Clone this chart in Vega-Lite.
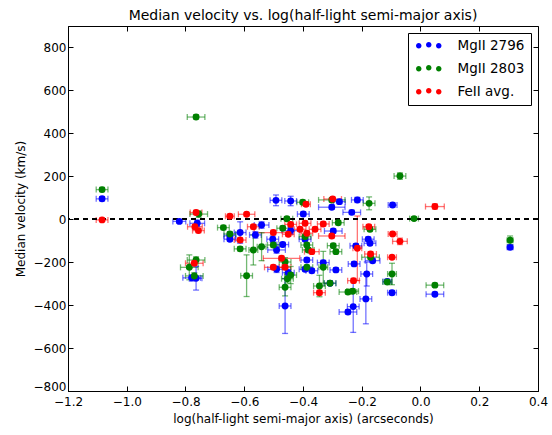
{
  "$schema": "https://vega.github.io/schema/vega-lite/v6.json",
  "width": 470,
  "height": 365,
  "autosize": {"type": "none"},
  "padding": {"left": 68, "top": 26, "right": 14, "bottom": 44},
  "background": "white",
  "title": {"text": "Median velocity vs. log(half-light semi-major axis)", "fontSize": 14, "font": "DejaVu Sans", "fontWeight": "normal", "offset": 3, "color": "black"},
  "config": {
    "font": "DejaVu Sans",
    "view": {"stroke": "black", "strokeWidth": 1},
    "axis": {"grid": false, "domainColor": "black", "tickColor": "black", "labelColor": "black", "titleColor": "black", "labelFontSize": 12, "titleFontSize": 12, "titleFontWeight": "normal", "tickSize": -5, "labelFlush": false, "labelOverlap": false, "labelFont": "DejaVu Sans", "titleFont": "DejaVu Sans"}
  },
  "data": {"values": [
    {"s": "MgII 2796", "x": -1.084, "y": 95, "xe": 0.02, "ye": 10},
    {"s": "MgII 2796", "x": -0.821, "y": -10, "xe": 0.022, "ye": 8},
    {"s": "MgII 2796", "x": -0.760, "y": -19, "xe": 0.025, "ye": 15},
    {"s": "MgII 2796", "x": -0.779, "y": -273, "xe": 0.03, "ye": 15},
    {"s": "MgII 2796", "x": -0.764, "y": -275, "xe": 0.02, "ye": 55},
    {"s": "MgII 2796", "x": -0.649, "y": -77, "xe": 0.02, "ye": 15},
    {"s": "MgII 2796", "x": -0.649, "y": -93, "xe": 0.02, "ye": 10},
    {"s": "MgII 2796", "x": -0.614, "y": -62, "xe": 0.02, "ye": 50},
    {"s": "MgII 2796", "x": -0.562, "y": -73, "xe": 0.02, "ye": 15},
    {"s": "MgII 2796", "x": -0.541, "y": -27, "xe": 0.025, "ye": 15},
    {"s": "MgII 2796", "x": -0.503, "y": -93, "xe": 0.02, "ye": 15},
    {"s": "MgII 2796", "x": -0.490, "y": -143, "xe": 0.03, "ye": 15},
    {"s": "MgII 2796", "x": -0.492, "y": 88, "xe": 0.02, "ye": 25},
    {"s": "MgII 2796", "x": -0.442, "y": 85, "xe": 0.02, "ye": 22},
    {"s": "MgII 2796", "x": -0.469, "y": -118, "xe": 0.02, "ye": 10},
    {"s": "MgII 2796", "x": -0.490, "y": -233, "xe": 0.03, "ye": 15},
    {"s": "MgII 2796", "x": -0.450, "y": -249, "xe": 0.02, "ye": 15},
    {"s": "MgII 2796", "x": -0.461, "y": -404, "xe": 0.02, "ye": 128},
    {"s": "MgII 2796", "x": -0.442, "y": -53, "xe": 0.03, "ye": 15},
    {"s": "MgII 2796", "x": -0.399, "y": 24, "xe": 0.02, "ye": 10},
    {"s": "MgII 2796", "x": -0.393, "y": -93, "xe": 0.02, "ye": 10},
    {"s": "MgII 2796", "x": -0.387, "y": -190, "xe": 0.02, "ye": 10},
    {"s": "MgII 2796", "x": -0.393, "y": -233, "xe": 0.02, "ye": 10},
    {"s": "MgII 2796", "x": -0.370, "y": -240, "xe": 0.02, "ye": 10},
    {"s": "MgII 2796", "x": -0.302, "y": 56, "xe": 0.045, "ye": 10},
    {"s": "MgII 2796", "x": -0.276, "y": 82, "xe": 0.02, "ye": 10},
    {"s": "MgII 2796", "x": -0.297, "y": -55, "xe": 0.03, "ye": 10},
    {"s": "MgII 2796", "x": -0.288, "y": -236, "xe": 0.02, "ye": 10},
    {"s": "MgII 2796", "x": -0.308, "y": -298, "xe": 0.02, "ye": 10},
    {"s": "MgII 2796", "x": -0.331, "y": -202, "xe": 0.02, "ye": 10},
    {"s": "MgII 2796", "x": -0.215, "y": 90, "xe": 0.02, "ye": 12},
    {"s": "MgII 2796", "x": -0.234, "y": 32, "xe": 0.03, "ye": 10},
    {"s": "MgII 2796", "x": -0.220, "y": -124, "xe": 0.02, "ye": 10},
    {"s": "MgII 2796", "x": -0.226, "y": -208, "xe": 0.02, "ye": 10},
    {"s": "MgII 2796", "x": -0.229, "y": -407, "xe": 0.02, "ye": 120},
    {"s": "MgII 2796", "x": -0.247, "y": -432, "xe": 0.03, "ye": 10},
    {"s": "MgII 2796", "x": -0.178, "y": -93, "xe": 0.02, "ye": 10},
    {"s": "MgII 2796", "x": -0.172, "y": -112, "xe": 0.02, "ye": 10},
    {"s": "MgII 2796", "x": -0.163, "y": -193, "xe": 0.025, "ye": 10},
    {"s": "MgII 2796", "x": -0.183, "y": -255, "xe": 0.02, "ye": 56},
    {"s": "MgII 2796", "x": -0.186, "y": -371, "xe": 0.02, "ye": 116},
    {"s": "MgII 2796", "x": -0.095, "y": 66, "xe": 0.015, "ye": 10},
    {"s": "MgII 2796", "x": -0.113, "y": -290, "xe": 0.015, "ye": 10},
    {"s": "MgII 2796", "x": -0.097, "y": -342, "xe": 0.015, "ye": 10},
    {"s": "MgII 2796", "x": 0.049, "y": -349, "xe": 0.03, "ye": 8},
    {"s": "MgII 2796", "x": 0.305, "y": -131, "xe": 0.01, "ye": 10},
    {"s": "MgII 2803", "x": -1.084, "y": 138, "xe": 0.02, "ye": 10},
    {"s": "MgII 2803", "x": -0.764, "y": 476, "xe": 0.03, "ye": 10},
    {"s": "MgII 2803", "x": -0.755, "y": 24, "xe": 0.03, "ye": 15},
    {"s": "MgII 2803", "x": -0.671, "y": -39, "xe": 0.02, "ye": 10},
    {"s": "MgII 2803", "x": -0.649, "y": -69, "xe": 0.02, "ye": 10},
    {"s": "MgII 2803", "x": -0.614, "y": -138, "xe": 0.02, "ye": 10},
    {"s": "MgII 2803", "x": -0.592, "y": -263, "xe": 0.02, "ye": 97},
    {"s": "MgII 2803", "x": -0.569, "y": -143, "xe": 0.015, "ye": 70},
    {"s": "MgII 2803", "x": -0.541, "y": -128, "xe": 0.015, "ye": 65},
    {"s": "MgII 2803", "x": -0.764, "y": -190, "xe": 0.03, "ye": 15},
    {"s": "MgII 2803", "x": -0.787, "y": -224, "xe": 0.03, "ye": 58},
    {"s": "MgII 2803", "x": -0.770, "y": -264, "xe": 0.03, "ye": 15},
    {"s": "MgII 2803", "x": -0.501, "y": -120, "xe": 0.02, "ye": 10},
    {"s": "MgII 2803", "x": -0.469, "y": -42, "xe": 0.02, "ye": 10},
    {"s": "MgII 2803", "x": -0.455, "y": 2, "xe": 0.02, "ye": 10},
    {"s": "MgII 2803", "x": -0.461, "y": -199, "xe": 0.02, "ye": 20},
    {"s": "MgII 2803", "x": -0.442, "y": -260, "xe": 0.02, "ye": 40},
    {"s": "MgII 2803", "x": -0.453, "y": -277, "xe": 0.02, "ye": 20},
    {"s": "MgII 2803", "x": -0.461, "y": -317, "xe": 0.02, "ye": 40},
    {"s": "MgII 2803", "x": -0.401, "y": 79, "xe": 0.02, "ye": 10},
    {"s": "MgII 2803", "x": -0.393, "y": -81, "xe": 0.02, "ye": 10},
    {"s": "MgII 2803", "x": -0.387, "y": -120, "xe": 0.02, "ye": 10},
    {"s": "MgII 2803", "x": -0.382, "y": -143, "xe": 0.02, "ye": 10},
    {"s": "MgII 2803", "x": -0.387, "y": -224, "xe": 0.02, "ye": 10},
    {"s": "MgII 2803", "x": -0.331, "y": -224, "xe": 0.015, "ye": 74},
    {"s": "MgII 2803", "x": -0.344, "y": -311, "xe": 0.02, "ye": 50},
    {"s": "MgII 2803", "x": -0.302, "y": 90, "xe": 0.045, "ye": 10},
    {"s": "MgII 2803", "x": -0.280, "y": -16, "xe": 0.02, "ye": 10},
    {"s": "MgII 2803", "x": -0.297, "y": -123, "xe": 0.02, "ye": 10},
    {"s": "MgII 2803", "x": -0.288, "y": -151, "xe": 0.02, "ye": 10},
    {"s": "MgII 2803", "x": -0.308, "y": -298, "xe": 0.02, "ye": 10},
    {"s": "MgII 2803", "x": -0.247, "y": -339, "xe": 0.03, "ye": 10},
    {"s": "MgII 2803", "x": -0.231, "y": -335, "xe": 0.02, "ye": 10},
    {"s": "MgII 2803", "x": -0.175, "y": 74, "xe": 0.02, "ye": 30},
    {"s": "MgII 2803", "x": -0.172, "y": -47, "xe": 0.02, "ye": 10},
    {"s": "MgII 2803", "x": -0.170, "y": -177, "xe": 0.03, "ye": 10},
    {"s": "MgII 2803", "x": -0.070, "y": 201, "xe": 0.02, "ye": 15},
    {"s": "MgII 2803", "x": -0.022, "y": 3, "xe": 0.015, "ye": 8},
    {"s": "MgII 2803", "x": -0.097, "y": -255, "xe": 0.015, "ye": 50},
    {"s": "MgII 2803", "x": -0.113, "y": -292, "xe": 0.015, "ye": 10},
    {"s": "MgII 2803", "x": 0.049, "y": -307, "xe": 0.03, "ye": 8},
    {"s": "MgII 2803", "x": 0.305, "y": -98, "xe": 0.01, "ye": 20},
    {"s": "FeII avg.", "x": -1.084, "y": -3, "xe": 0.02, "ye": 8},
    {"s": "FeII avg.", "x": -0.764, "y": 31, "xe": 0.02, "ye": 10},
    {"s": "FeII avg.", "x": -0.768, "y": -35, "xe": 0.025, "ye": 10},
    {"s": "FeII avg.", "x": -0.756, "y": -53, "xe": 0.02, "ye": 10},
    {"s": "FeII avg.", "x": -0.649, "y": 14, "xe": 0.015, "ye": 8},
    {"s": "FeII avg.", "x": -0.592, "y": 23, "xe": 0.028, "ye": 8},
    {"s": "FeII avg.", "x": -0.770, "y": -205, "xe": 0.03, "ye": 10},
    {"s": "FeII avg.", "x": -0.614, "y": -97, "xe": 0.02, "ye": 10},
    {"s": "FeII avg.", "x": -0.569, "y": -35, "xe": 0.02, "ye": 10},
    {"s": "FeII avg.", "x": -0.501, "y": -62, "xe": 0.065, "ye": 10},
    {"s": "FeII avg.", "x": -0.473, "y": -182, "xe": 0.062, "ye": 10},
    {"s": "FeII avg.", "x": -0.501, "y": -224, "xe": 0.03, "ye": 10},
    {"s": "FeII avg.", "x": -0.461, "y": -224, "xe": 0.02, "ye": 10},
    {"s": "FeII avg.", "x": -0.450, "y": -70, "xe": 0.02, "ye": 10},
    {"s": "FeII avg.", "x": -0.442, "y": -24, "xe": 0.02, "ye": 10},
    {"s": "FeII avg.", "x": -0.390, "y": 70, "xe": 0.015, "ye": 10},
    {"s": "FeII avg.", "x": -0.410, "y": -47, "xe": 0.02, "ye": 10},
    {"s": "FeII avg.", "x": -0.393, "y": -19, "xe": 0.02, "ye": 10},
    {"s": "FeII avg.", "x": -0.387, "y": -65, "xe": 0.02, "ye": 10},
    {"s": "FeII avg.", "x": -0.370, "y": -151, "xe": 0.025, "ye": 10},
    {"s": "FeII avg.", "x": -0.359, "y": -47, "xe": 0.02, "ye": 10},
    {"s": "FeII avg.", "x": -0.331, "y": -22, "xe": 0.02, "ye": 10},
    {"s": "FeII avg.", "x": -0.302, "y": -78, "xe": 0.045, "ye": 10},
    {"s": "FeII avg.", "x": -0.299, "y": 94, "xe": 0.03, "ye": 8},
    {"s": "FeII avg.", "x": -0.344, "y": -342, "xe": 0.02, "ye": 10},
    {"s": "FeII avg.", "x": -0.215, "y": -135, "xe": 0.015, "ye": 150},
    {"s": "FeII avg.", "x": -0.228, "y": -286, "xe": 0.02, "ye": 10},
    {"s": "FeII avg.", "x": -0.176, "y": -35, "xe": 0.02, "ye": 10},
    {"s": "FeII avg.", "x": -0.170, "y": -162, "xe": 0.02, "ye": 10},
    {"s": "FeII avg.", "x": -0.095, "y": -69, "xe": 0.015, "ye": 8},
    {"s": "FeII avg.", "x": -0.097, "y": -177, "xe": 0.015, "ye": 8},
    {"s": "FeII avg.", "x": -0.070, "y": -103, "xe": 0.025, "ye": 15},
    {"s": "FeII avg.", "x": 0.049, "y": 59, "xe": 0.032, "ye": 12}
  ]},
  "layer": [
    {
      "mark": {"type": "errorbar", "ticks": {"size": 6, "opacity": 0.55}, "rule": {"opacity": 0.55}, "thickness": 1.3},
      "encoding": {
        "x": {"field": "x", "type": "quantitative", "scale": {"domain": [-1.2, 0.4], "nice": false, "zero": false}, "axis": null},
        "xError": {"field": "xe"},
        "y": {"field": "y", "type": "quantitative", "scale": {"domain": [-800, 900], "nice": false, "zero": false}, "axis": null},
        "color": {"field": "s", "type": "nominal", "scale": {"domain": ["MgII 2796", "MgII 2803", "FeII avg."], "range": ["#0000ff", "#008000", "#ff0000"]}}
      }
    },
    {
      "mark": {"type": "errorbar", "ticks": {"size": 6, "opacity": 0.55}, "rule": {"opacity": 0.55}, "thickness": 1.3},
      "encoding": {
        "y": {"field": "y", "type": "quantitative", "axis": null},
        "yError": {"field": "ye"},
        "x": {"field": "x", "type": "quantitative", "axis": null},
        "color": {"field": "s", "type": "nominal"}
      }
    },
    {
      "mark": {"type": "rule", "strokeDash": [5, 4], "color": "black", "strokeWidth": 1},
      "encoding": {"y": {"datum": 0, "type": "quantitative", "axis": null}}
    },
    {
      "mark": {"type": "point", "filled": true, "size": 48, "opacity": 1, "shape": "circle"},
      "encoding": {
        "x": {"field": "x", "type": "quantitative", "title": "log(half-light semi-major axis) (arcseconds)", "axis": {"values": [-1.2, -1.0, -0.8, -0.6, -0.4, -0.2, 0.0, 0.2, 0.4], "format": ".1f", "labelPadding": 10, "titlePadding": 6}},
        "y": {"field": "y", "type": "quantitative", "title": "Median velocity (km/s)", "axis": {"values": [-800, -600, -400, -200, 0, 200, 400, 600, 800], "format": "d", "labelPadding": 7, "titlePadding": 6, "labelOffset": {"condition": {"test": "datum.value === -800", "value": -5}, "value": 0}}},
        "color": {"field": "s", "type": "nominal", "title": null, "legend": {
          "orient": "top-right", "offset": 7, "padding": 6, "strokeColor": "black", "fillColor": "white",
          "symbolType": "M -2.55 0 A 0.55 0.55 0 1 0 -1.45 0 A 0.55 0.55 0 1 0 -2.55 0 Z M -0.55 -0.2 A 0.55 0.55 0 1 0 0.55 -0.2 A 0.55 0.55 0 1 0 -0.55 -0.2 Z M 1.45 0 A 0.55 0.55 0 1 0 2.55 0 A 0.55 0.55 0 1 0 1.45 0 Z",
          "symbolSize": 100, "symbolOffset": 8, "symbolStrokeWidth": 0, "symbolOpacity": 1, "labelOffset": 22, "labelFontSize": 13.5, "labelColor": "black", "rowPadding": 8, "labelFont": "DejaVu Sans",
          "encode": {"symbols": {"update": {"opacity": {"value": 1}, "fillOpacity": {"value": 1}}}}
        }}
      }
    },
    {
      "mark": {"type": "point", "opacity": 0},
      "encoding": {
        "x": {"field": "x", "type": "quantitative", "axis": {"orient": "top", "values": [-1.2, -1.0, -0.8, -0.6, -0.4, -0.2, 0.0, 0.2, 0.4], "labels": false, "domain": false, "title": null}},
        "y": {"field": "y", "type": "quantitative", "axis": {"orient": "right", "values": [-800, -600, -400, -200, 0, 200, 400, 600, 800], "labels": false, "domain": false, "title": null}}
      }
    }
  ],
  "resolve": {"axis": {"x": "independent", "y": "independent"}}
}
